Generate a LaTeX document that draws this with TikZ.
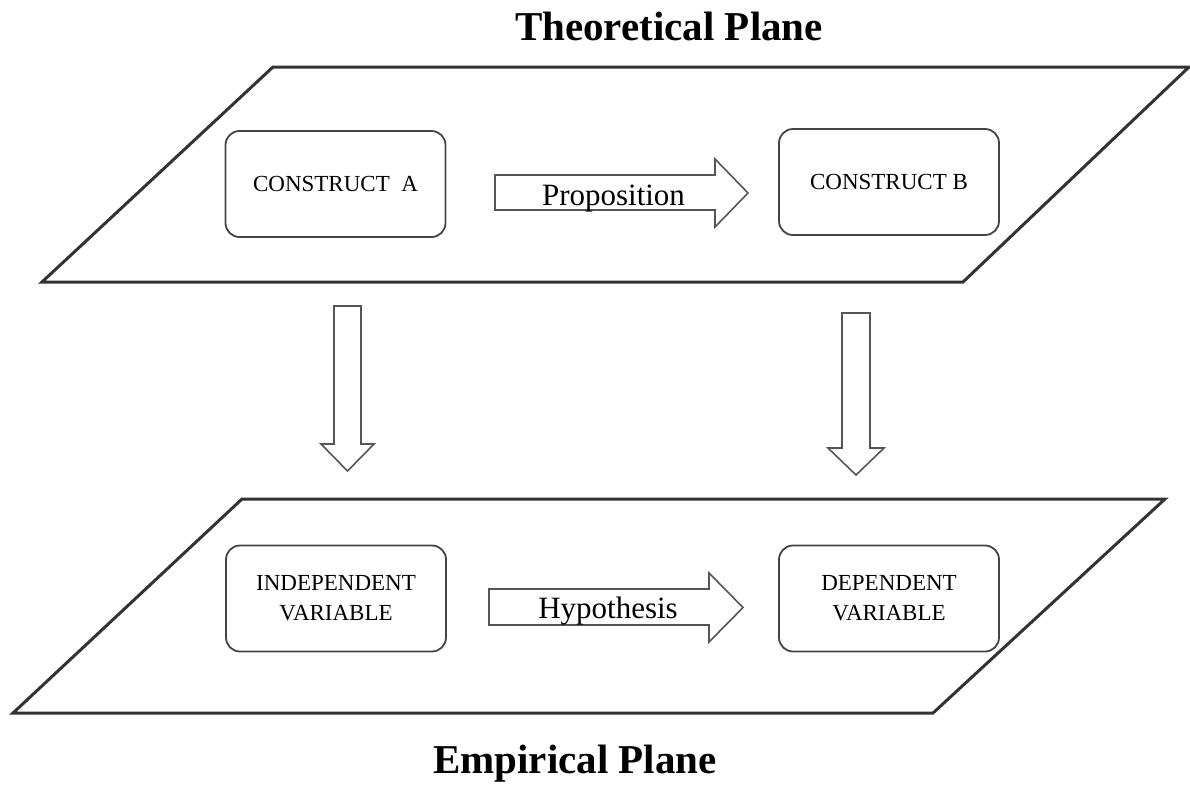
\documentclass[tikz,border=0pt]{standalone}
\usepackage{fontspec}
\setmainfont{Liberation Serif}
\usetikzlibrary{positioning}
\definecolor{c333333}{RGB}{51,51,51}
\definecolor{c444444}{RGB}{68,68,68}
\definecolor{c555555}{RGB}{85,85,85}

\begin{document}
\begin{tikzpicture}[y=1pt, x=1pt, yscale=-1, inner sep=0pt, outer sep=0pt,
  plane/.style={draw=c333333,line join=miter,line width=3pt},
  cbox/.style={draw=c444444,fill=white,line width=1.8pt,rounded corners=14pt,
    minimum width=220pt,minimum height=106pt,align=center,
    font=\fontsize{23}{30}\selectfont},
  fatarrow/.style={draw=c555555,fill=white,line join=miter,line width=1.6pt},
  arrowlabel/.style={font=\fontsize{31}{36}\selectfont},
  planetitle/.style={font=\bfseries\fontsize{41}{48}\selectfont}]
  \useasboundingbox (0,0) rectangle (1190,785);

  % theoretical plane
  \path[plane] (273,67) -- (1189,67) -- (963,282) -- (42,282) -- cycle;
  \node[planetitle, anchor=base] (theotitle) at (669,40) {Theoretical Plane};
  \node[cbox] (consA) at (335.5,184) {CONSTRUCT\ \ A};
  \node[cbox] (consB) at (889,182) {CONSTRUCT B};
  \path[fatarrow] (495,175) -- (715,175) -- (715,159) -- (748,193) --
    (715,227) -- (715,210) -- (495,210) -- cycle;
  \node[arrowlabel, anchor=base] (propos) at (613.5,205) {Proposition};

  % empirical plane
  \path[plane] (242,499) -- (1165,499) -- (933,713) -- (13,713) -- cycle;
  \node[planetitle, anchor=base] (emptitle) at (575,773) {Empirical Plane};
  \node[cbox] (indep) at (336,598.5) {INDEPENDENT\\VARIABLE};
  \node[cbox] (dep) at (889,598.5) {DEPENDENT\\VARIABLE};
  \path[fatarrow] (489,589) -- (709,589) -- (709,573) -- (743,607.5) --
    (709,642) -- (709,625) -- (489,625) -- cycle;
  \node[arrowlabel, anchor=base] (hypo) at (608,618) {Hypothesis};

  % down arrows from theory to data
  \coordinate (downA) at (347.5,306);
  \coordinate (downB) at (856,313);
  \path[fatarrow] (downA) ++(-13.5,0) -- ++(27,0) -- ++(0,138) -- ++(13,0)
    -- ++(-26.5,27) -- ++(-26.5,-27) -- ++(13,0) -- cycle;
  \path[fatarrow] (downB) ++(-14,0) -- ++(28,0) -- ++(0,135) -- ++(14,0)
    -- ++(-28,27) -- ++(-28,-27) -- ++(14,0) -- cycle;
\end{tikzpicture}
\end{document}
